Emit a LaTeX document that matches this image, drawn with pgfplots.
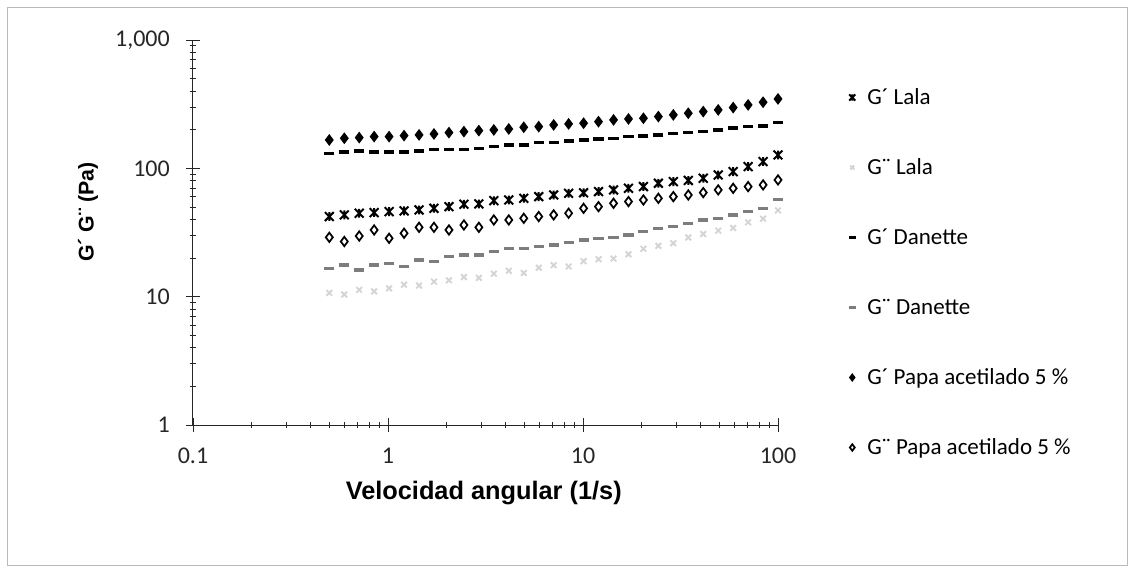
\documentclass[border=0pt]{standalone}
\usepackage{fontspec}
\setmainfont{Carlito}
\newfontfamily\arialf{Liberation Sans}
\usepackage{pgfplots}
\usepackage{pgfplotstable}
\pgfplotsset{compat=1.18}

% Excel "star" marker: an X with a vertical bar
\pgfdeclareplotmark{xstar}{%
  \pgfpathmoveto{\pgfqpoint{-\pgfplotmarksize}{-\pgfplotmarksize}}%
  \pgfpathlineto{\pgfqpoint{\pgfplotmarksize}{\pgfplotmarksize}}%
  \pgfpathmoveto{\pgfqpoint{-\pgfplotmarksize}{\pgfplotmarksize}}%
  \pgfpathlineto{\pgfqpoint{\pgfplotmarksize}{-\pgfplotmarksize}}%
  \pgfpathmoveto{\pgfqpoint{0pt}{-\pgfplotmarksize}}%
  \pgfpathlineto{\pgfqpoint{0pt}{\pgfplotmarksize}}%
  \pgfusepathqstroke}

\definecolor{midgray}{RGB}{125,125,125}
\definecolor{palegray}{RGB}{212,212,212}

% x = velocidad angular (1/s)
\pgfplotstableread{
x      gpL    gppL  gpD    gppD  gpP    gppP
0.5    42.1   10.7  131.1  16.6  166.4  29.0
0.597  43.4   10.4  133.5  17.7  171.6  26.9
0.712  44.7   11.3  136.6  16.2  173.6  29.7
0.849  45.2   11.0  133.5  17.7  176.7  33.1
1.013  46.0   11.6  133.5  18.2  176.7  28.5
1.209  46.6   12.4  133.5  17.2  179.9  31.2
1.443  47.4   12.2  136.6  19.3  182.1  34.7
1.721  48.8   13.1  140.8  18.8  185.4  34.7
2.054  50.3   13.4  140.8  20.5  189.9  33.1
2.451  52.5   14.2  140.8  21.1  193.3  36.2
2.924  52.8   14.0  143.4  21.1  196.8  34.7
3.489  56.0   15.1  147.7  22.4  199.2  39.6
4.163  56.7   15.9  152.2  23.8  202.8  39.6
4.968  58.4   15.3  152.2  23.8  209.0  40.8
5.928  60.2   16.8  158.7  24.5  211.4  42.1
7.073  62.0   17.6  158.7  25.3  218.0  43.4
8.439  63.9   17.2  163.5  26.4  222.0  44.7
10.07  64.5   18.9  166.5  27.7  224.6  48.8
12.01  65.9   19.6  169.5  28.5  231.0  50.3
14.34  67.9   19.8  171.5  29.0  238.4  53.4
17.11  69.9   21.4  176.8  30.3  242.7  55.1
20.41  72.1   23.6  178.9  32.1  245.6  56.7
24.35  76.5   24.9  182.1  34.1  253.0  58.4
29.06  78.8   26.1  187.7  35.2  260.8  60.2
34.67  80.5   28.9  191.1  37.3  268.9  62.0
41.37  83.7   30.8  193.4  39.6  276.8  64.7
49.36  88.8   32.7  199.3  40.8  285.3  67.9
58.90  94.3   34.3  205.4  43.4  297.4  69.9
70.28  103.2  38.0  211.4  46.0  312.0  72.1
83.86  112.9  40.5  214.0  48.8  327.4  74.3
100    127.2  47.0  227.2  57.0  347.5  81.2
}\datatable

\begin{document}
\begin{tikzpicture}
\path[use as bounding box] (-144.75pt,-108pt) rectangle (702.75pt,318.75pt);
\draw[gray!55, line width=0.75pt] (-138.75pt,-105pt) rectangle (700.5pt,312.75pt);
\begin{axis}[
    at={(0pt,0pt)}, anchor=south west,
    scale only axis,
    width=438.75pt, height=288.75pt,
    xmode=log, ymode=log,
    xmin=0.1, xmax=100, ymin=1, ymax=1000,
    axis lines=left,
    axis line style={-, black!85, line width=0.75pt},
    tick style={black!85, line width=0.6pt},
    tick align=center,
    major tick length=10.5pt,
    minor tick length=5pt,
    xtick={0.1,1,10,100},
    xticklabels={0.1,1,10,100},
    ytick={1,10,100,1000},
    yticklabels={1,10,100,{1,000}},
    ticklabel style={font=\fontsize{18}{18}\selectfont, text=black!85},
    xticklabel style={anchor=north, inner sep=0pt, yshift=-12pt},
    yticklabel style={anchor=east, inner sep=0pt, xshift=-12pt},
    xlabel={Velocidad angular (1/s)},
    ylabel={G´ G¨ (Pa)},
    xlabel style={at={(axis description cs:0.497,-0.177)}, anchor=center,
        font=\arialf\bfseries\fontsize{19}{19}\selectfont},
    ylabel style={at={(axis description cs:-0.1795,0.553)}, anchor=center,
        font=\arialf\bfseries\fontsize{16}{16}\selectfont},
    legend image code/.code={%
        \path[draw=none, fill=none] (-4pt,-4pt) rectangle (4pt,4pt);
        \draw[#1, /tikz/every mark/.append style={scale=0.7}] plot coordinates {(0pt,0pt)};},
    legend style={at={(axis description cs:1.1174,0.3961)}, anchor=west,
        draw=none, fill=none, inner sep=0pt,
        font=\fontsize{17.25}{20}\selectfont,
        row sep=41.5pt,
        nodes={inner sep=0pt, text height=11pt, text depth=0pt},
        /tikz/every odd column/.append style={column sep=7.25pt}},
    legend cell align=left,
]
\addplot[only marks, mark=xstar, mark size=3.3pt, black, line width=1.5pt]
    table[x=x, y=gpL] {\datatable};
\addlegendentry{G´ Lala}
\addplot[only marks, mark=x, mark size=3pt, palegray, line width=1.4pt]
    table[x=x, y=gppL] {\datatable};
\addlegendentry{G¨ Lala}
\addplot[only marks, mark=-, mark size=3.8pt, black, line width=2.6pt]
    table[x=x, y=gpD] {\datatable};
\addlegendentry{G´ Danette}
\addplot[only marks, mark=-, mark size=3.8pt, midgray, line width=2.6pt]
    table[x=x, y=gppD] {\datatable};
\addlegendentry{G¨ Danette}
\addplot[only marks, mark=diamond*, mark size=3.8pt, black, line width=0.8pt]
    table[x=x, y=gpP] {\datatable};
\addlegendentry{G´ Papa acetilado 5 \%}
\addplot[only marks, mark=diamond, mark size=3.5pt, black, line width=1.3pt]
    table[x=x, y=gppP] {\datatable};
\addlegendentry{G¨ Papa acetilado 5 \%}
\end{axis}
\end{tikzpicture}
\end{document}
